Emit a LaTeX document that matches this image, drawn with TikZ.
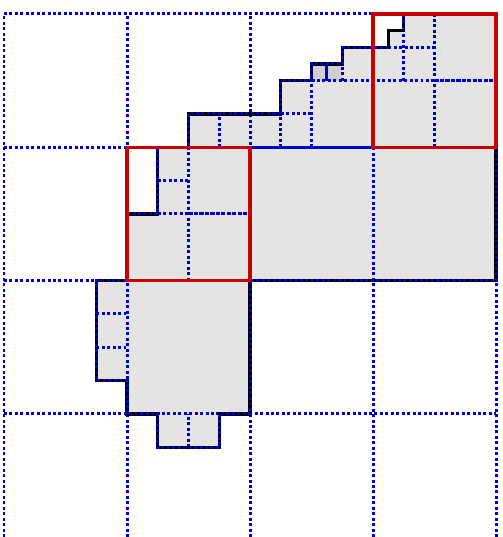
\documentclass[tikz,border=0pt]{standalone}
\usepackage{tikz}
\definecolor{gridblue}{RGB}{0,0,205}
\definecolor{framered}{RGB}{200,0,0}
\definecolor{cellgray}{RGB}{228,228,228}
\definecolor{cellgraydark}{RGB}{208,208,208}
\tikzset{
    % dotted grid and split lines (blue)
    gridline/.style={draw=gridblue, line width=1.7pt, dash pattern=on 1.7pt off 1.4pt},
    % two dotted lines on top of each other
    denseline/.style={gridline, dash pattern=on 2.4pt off 0.7pt},
    solidline/.style={draw=gridblue, line width=1.7pt},
    % outline of the covered region
    boundary/.style={draw=black, line width=1.8pt, line join=miter},
    % highlighted cells
    redframe/.style={draw=framered, line width=1.8pt},
}

\begin{document}
\begin{tikzpicture}[x=2.46cm,y=2.666cm]
  \useasboundingbox (-0.0325,0.077) rectangle (4.049,4.105);
  % covered region
  \fill[cellgray] (4,4) -- (4,2) -- (2,2) -- (2,1) -- (1.75,1) -- (1.75,0.75)
    -- (1.25,0.75) -- (1.25,1) -- (1,1) -- (1,1.25) -- (0.75,1.25) -- (0.75,2)
    -- (1,2) -- (1,2.5) -- (1.25,2.5) -- (1.25,3) -- (1.5,3) -- (1.5,3.25)
    -- (2.25,3.25) -- (2.25,3.5) -- (2.5,3.5) -- (2.5,3.625) -- (2.75,3.625)
    -- (2.75,3.75) -- (3.125,3.75) -- (3.125,3.875) -- (3.25,3.875) -- (3.25,4) -- cycle;
  \fill[cellgraydark] (2.5,3.5) rectangle (2.75,3.625);
  % coarse grid
  \foreach \x in {0,...,4}
    \draw[gridline] (\x,0.077) -- (\x,4);
  \foreach \y in {1,...,4}
    \draw[gridline] (0,\y) -- (4,\y);
  % finer splits
  \draw[gridline] (1.5,2) -- (1.5,3)  (1.75,3) -- (1.75,3.25)
    (2.25,3) -- (2.25,3.25)  (2.5,3) -- (2.5,3.5)  (2.75,3.5) -- (2.75,3.625)
    (2.25,3.25) -- (2.5,3.25)  (2.5,3.5) -- (3.5,3.5)  (3.125,3.75) -- (3.5,3.75)
    (3.25,3.5) -- (3.25,4)  (3.5,3) -- (3.5,4)
    (1.25,2.75) -- (1.5,2.75)  (1.25,2.5) -- (1.5,2.5)
    (0.75,1.75) -- (1,1.75)  (0.75,1.5) -- (1,1.5)  (1.5,0.75) -- (1.5,1);
  \draw[denseline] (3.5,3.5) -- (4,3.5)  (1.5,2.5) -- (2,2.5);
  \draw[solidline] (2,3) -- (3,3)  (2.625,3.5) -- (2.625,3.625);
  % region outline
  \draw[boundary] (4,4) -- (4,2) -- (2,2) -- (2,1) -- (1.75,1) -- (1.75,0.75)
    -- (1.25,0.75) -- (1.25,1) -- (1,1) -- (1,1.25) -- (0.75,1.25) -- (0.75,2)
    -- (1,2) -- (1,2.5) -- (1.25,2.5) -- (1.25,3) -- (1.5,3) -- (1.5,3.25)
    -- (2.25,3.25) -- (2.25,3.5) -- (2.5,3.5) -- (2.5,3.625) -- (2.75,3.625)
    -- (2.75,3.75) -- (3.125,3.75) -- (3.125,3.875) -- (3.25,3.875) -- (3.25,4) -- cycle;
  \draw[gridline] (3.125,3.75) -- (2.75,3.75) -- (2.75,3.625) -- (2.5,3.625)
    -- (2.5,3.5) -- (2.25,3.5) -- (2.25,3.25) -- (1.5,3.25) -- (1.5,3)
    -- (1.25,3) -- (1.25,2.5) -- (1,2.5) -- (1,2) -- (0.75,2) -- (0.75,1.25)
    -- (1,1.25) -- (1,1) -- (1.25,1) -- (1.25,0.75) -- (1.75,0.75) -- (1.75,1)
    -- (2,1) -- (2,2) -- (4,2) -- (4,4) -- (3.25,4) -- (3.25,3.875);
  % highlighted cells
  \draw[redframe] (1,2) rectangle (2,3);
  \draw[redframe] (3,3) rectangle (4,4);
\end{tikzpicture}
\end{document}
